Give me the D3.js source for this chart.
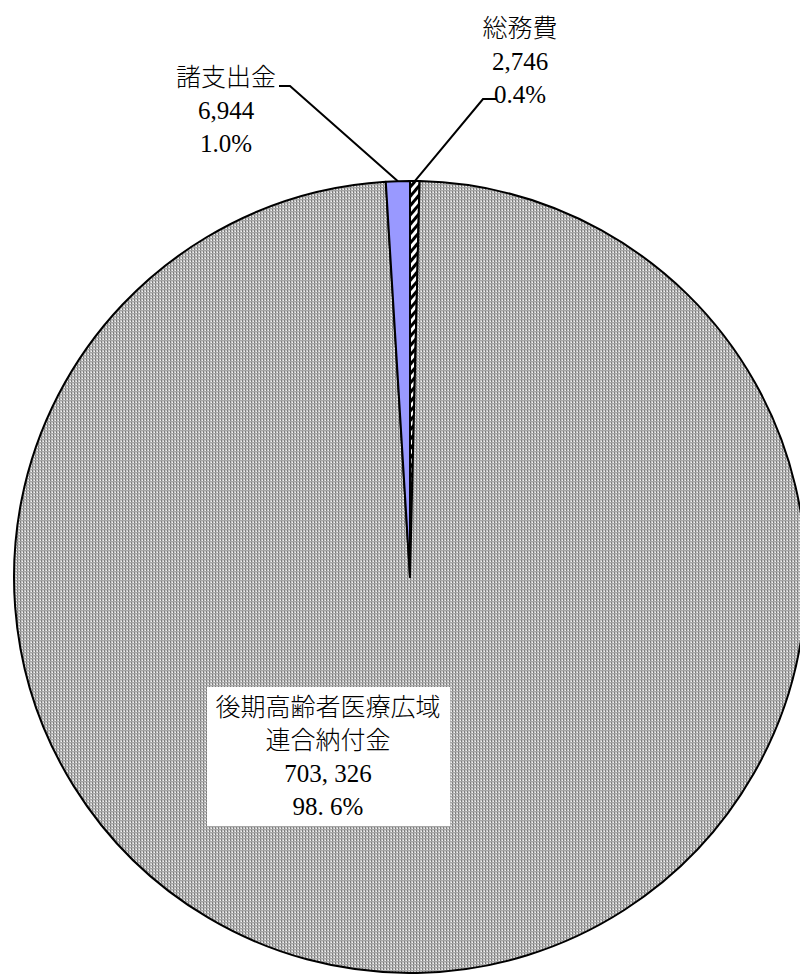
<!DOCTYPE html>
<html>
<head>
<meta charset="utf-8">
<script src="https://cdn.jsdelivr.net/npm/d3@7"></script>
<style>
  html, body { margin: 0; padding: 0; background: #fff; }
  text { font-family: "Liberation Serif", "Noto Sans CJK JP", serif; font-size: 25px; font-weight: 300; fill: #000; }
</style>
</head>
<body>
<div id="chart-container"></div>
<script>
// 歳出の内訳 (千円)
const categories = ["総務費", "後期高齢者医療広域連合納付金", "諸支出金"];
const values = [2746, 703326, 6944];
// 表示用ラベル（改行位置）
const labelLines = [["総務費"], ["後期高齢者医療広域", "連合納付金"], ["諸支出金"]];

const width = 800, height = 974;
const cx = 410, cy = 577, r = 396;

const svg = d3.select("#chart-container")
    .append("svg")
    .attr("width", width)
    .attr("height", height);

// パターン定義
const defs = svg.append("defs");

const grid = defs.append("pattern")
    .attr("id", "grid")
    .attr("patternUnits", "userSpaceOnUse")
    .attr("width", 3).attr("height", 3);
grid.append("rect").attr("width", 3).attr("height", 3).attr("fill", "#c6c6c6");
grid.append("rect").attr("x", 0).attr("width", 1).attr("height", 3).attr("fill", "#7c7c7c");
grid.append("rect").attr("y", 0).attr("width", 3).attr("height", 1).attr("fill", "#a6a6a6");
grid.append("rect").attr("x", 2).attr("y", 2).attr("width", 1).attr("height", 1).attr("fill", "#f2f2f2");

const hatch = defs.append("pattern")
    .attr("id", "hatch")
    .attr("patternUnits", "userSpaceOnUse")
    .attr("width", 6).attr("height", 6)
    .attr("patternTransform", "rotate(40)");
hatch.append("rect").attr("width", 6).attr("height", 6).attr("fill", "#fff");
hatch.append("rect").attr("width", 3).attr("height", 6).attr("fill", "#000");

const fills = ["url(#hatch)", "url(#grid)", "#9999ff"];

// 円グラフ
const pie = d3.pie().sort(null).value(d => d)(values);
const arc = d3.arc().innerRadius(0).outerRadius(r);

const g = svg.append("g").attr("transform", `translate(${cx},${cy})`);

g.selectAll("path")
    .data(pie)
    .enter()
    .append("path")
    .attr("d", arc)
    .attr("fill", (d, i) => fills[i])
    .attr("stroke", "#000")
    .attr("stroke-width", 2)
    .attr("stroke-linejoin", "round");

const total = d3.sum(values);
const fmt = d3.format(",");
const pct = v => (v / total * 100).toFixed(1) + "%";

// 外側ラベル（総務費・諸支出金）
const outside = [
    { i: 0, x: 520, y: 37, lx: 483, ly: 99, hx: 497 },
    { i: 2, x: 226, y: 86, lx: 290, ly: 86, hx: 279 }
];

outside.forEach(o => {
    const d = pie[o.i];
    const mid = (d.startAngle + d.endAngle) / 2;
    const px = cx + r * Math.sin(mid);
    const py = cy - r * Math.cos(mid);

    svg.append("polyline")
        .attr("points", `${px},${py} ${o.lx},${o.ly} ${o.hx},${o.ly}`)
        .attr("fill", "none")
        .attr("stroke", "#000")
        .attr("stroke-width", 2);

    const lines = [...labelLines[o.i], fmt(values[o.i]), pct(values[o.i])];
    const t = svg.append("text").attr("text-anchor", "middle");
    lines.forEach((s, k) => {
        t.append("tspan").attr("x", o.x).attr("y", o.y + k * 33).text(s);
    });
});

// 内側ラベル（白い背景付き）
const big = 1;
svg.append("rect")
    .attr("x", 207).attr("y", 687)
    .attr("width", 243).attr("height", 139)
    .attr("fill", "#fff");

const bigLines = [
    ...labelLines[big],
    fmt(values[big]).replace(",", ", "),
    pct(values[big]).replace(".", ". ")
];
const tb = svg.append("text").attr("text-anchor", "middle");
bigLines.forEach((s, k) => {
    tb.append("tspan").attr("x", 328).attr("y", 716 + k * 33).text(s);
});
</script>
</body>
</html>
